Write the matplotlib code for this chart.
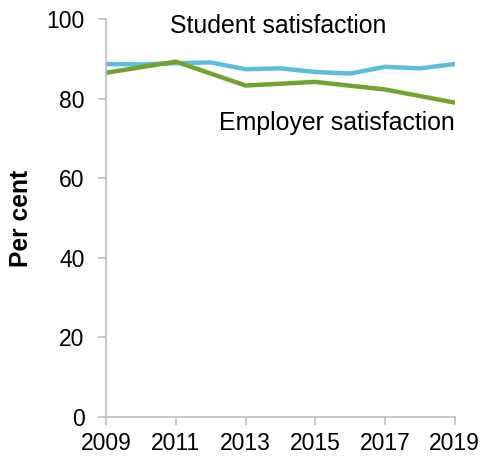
import matplotlib
matplotlib.use("Agg")
import matplotlib.pyplot as plt

plt.rcParams['font.family'] = ['Liberation Sans', 'DejaVu Sans']

years = [2009, 2010, 2011, 2012, 2013, 2014, 2015, 2016, 2017, 2018, 2019]
student = [88.7, 88.6, 88.9, 89.1, 87.4, 87.6, 86.7, 86.3, 88.0, 87.6, 88.7]
emp_years = [2009, 2011, 2013, 2015, 2017, 2019]
employer = [86.5, 89.3, 83.3, 84.2, 82.3, 79.0]
xticks = [2009, 2011, 2013, 2015, 2017, 2019]
yticks = [0, 20, 40, 60, 80, 100]

fig = plt.figure(figsize=(4.89, 4.59), dpi=100)
ax = fig.add_axes([0.217, 0.0915, 0.713, 0.867])
ax.plot(years, student, color='#5BBDE0', lw=3.2, solid_joinstyle='miter')
ax.plot(emp_years, employer, color='#74A22F', lw=3.2, solid_joinstyle='miter')

ax.set_xlim(2009, 2019)
ax.set_ylim(0, 100)
ax.set_xticks(xticks)
ax.set_yticks(yticks)
for s in ['top', 'right']:
    ax.spines[s].set_visible(False)
for s in ['left', 'bottom']:
    ax.spines[s].set_color('#BFBFBF')
    ax.spines[s].set_linewidth(1.2)
ax.spines['bottom'].set_zorder(0)
ax.tick_params(axis='both', colors='#BFBFBF', labelcolor='black', labelsize=16.5, length=5.5, width=1.2)
ax.tick_params(axis='x', pad=5.5)
ax.tick_params(axis='y', pad=10)
ax.set_ylabel('Per cent', fontsize=17.7, fontweight='bold')
ax.yaxis.set_label_coords(-0.21, 0.5)

ax.text(2013.94, 98.3, 'Student satisfaction', fontsize=17.9, ha='center', va='center')
ax.text(2019, 73.9, 'Employer satisfaction', fontsize=17.9, ha='right', va='center')

fig.savefig('out.png', dpi=100)
